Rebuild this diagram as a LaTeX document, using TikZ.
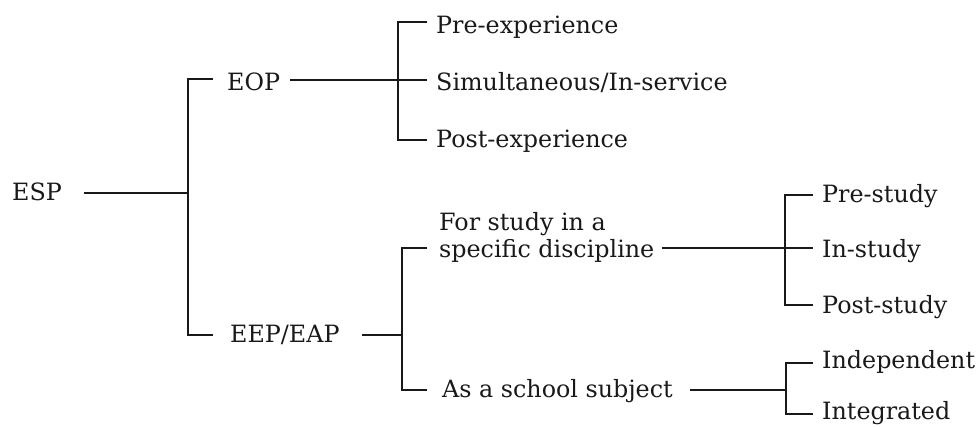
\documentclass[tikz,border=0pt]{standalone}
\usepackage{fontspec}
\setmainfont{DejaVu Serif}
\begin{document}
\begin{tikzpicture}[x=1pt,y=-1pt,
  lbl/.style={anchor=base west, inner sep=0pt, text=black!90,
    font=\fontsize{23.8}{28}\selectfont},
  ln/.style={line width=1.3pt, black!90}]
\useasboundingbox (0,0) rectangle (980,426);
% text nodes
\node[lbl] (esp) at (12,200) {ESP};
\node[lbl] (eop) at (227,90) {EOP};
\node[lbl] (eep) at (230,342) {EEP/EAP};
\node[lbl] (pre) at (436,33) {Pre-experience};
\node[lbl] (sim) at (436,90) {Simultaneous/In-service};
\node[lbl] (post) at (436,147) {Post-experience};
\node[lbl] (disca) at (439,230) {For study in a};
\node[lbl] (disc) at (439,257) {specific discipline};
\node[lbl] (school) at (442,397) {As a school subject};
\node[lbl] (prest) at (822,202) {Pre-study};
\node[lbl] (inst) at (822,257) {In-study};
\node[lbl] (postst) at (822,313) {Post-study};
\node[lbl] (indep) at (822,368) {Independent};
\node[lbl] (integ) at (822,419) {Integrated};
% bracket corners
\coordinate (b1t) at (188,79);  \coordinate (b1m) at (188,193); \coordinate (b1b) at (188,335);
\coordinate (b2t) at (398,22);  \coordinate (b2m) at (398,80);  \coordinate (b2b) at (398,140);
\coordinate (b3t) at (402,248); \coordinate (b3m) at (402,335); \coordinate (b3b) at (402,390);
\coordinate (b4t) at (785,195); \coordinate (b4m) at (785,248); \coordinate (b4b) at (785,305);
\coordinate (b5t) at (786,363); \coordinate (b5m) at (786,390); \coordinate (b5b) at (786,414);
% connectors
\draw[ln, shorten <=22pt] (esp.east |- b1m) -- (b1m);
\draw[ln, shorten <=14pt, shorten >=17pt] (eop.west |- b1t) -- (b1t) -- (b1b) -- (eep.west |- b1b);
\draw[ln, shorten <=10pt, shorten >=9pt] (eop.east |- b2m) -- (sim.west |- b2m);
\draw[ln, shorten <=9pt, shorten >=9pt] (pre.west |- b2t) -- (b2t) -- (b2b) -- (post.west |- b2b);
\draw[ln, shorten <=22pt] (eep.east |- b3m) -- (b3m);
\draw[ln, shorten <=12pt, shorten >=15pt] (disc.west |- b3t) -- (b3t) -- (b3b) -- (school.west |- b3b);
\draw[ln, shorten <=7pt, shorten >=9pt] (disc.east |- b4m) -- (inst.west |- b4m);
\draw[ln, shorten <=9pt, shorten >=9pt] (prest.west |- b4t) -- (b4t) -- (b4b) -- (postst.west |- b4b);
\draw[ln, shorten <=17pt] (school.east |- b5m) -- (b5m);
\draw[ln, shorten <=9pt, shorten >=9pt] (indep.west |- b5t) -- (b5t) -- (b5b) -- (integ.west |- b5b);
\end{tikzpicture}
\end{document}
